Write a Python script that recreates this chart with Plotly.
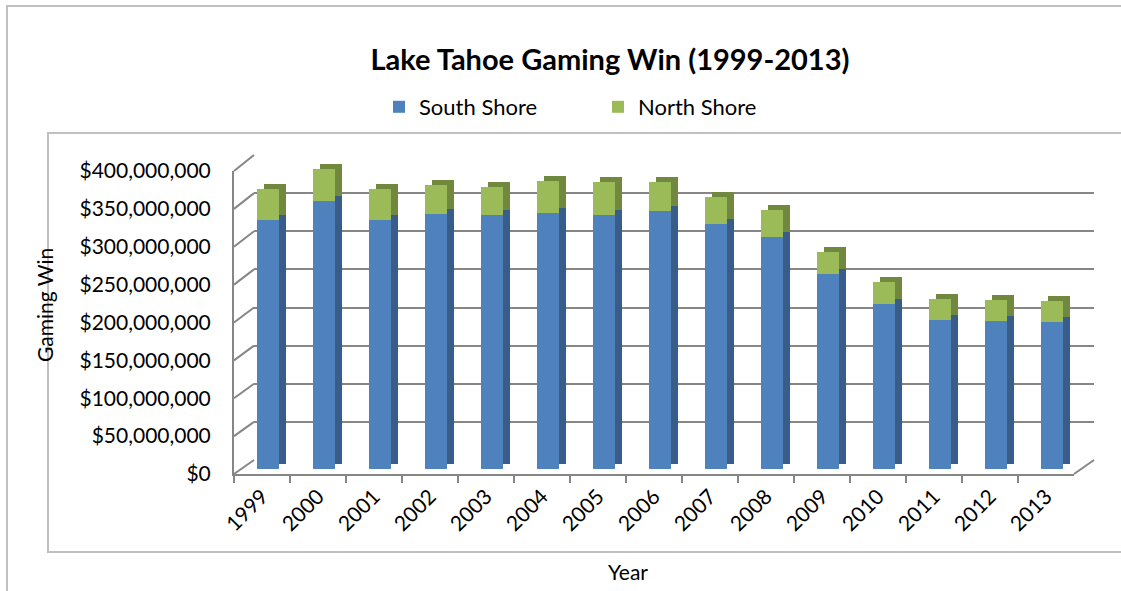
import plotly.graph_objects as go

# ---------------- data ----------------
years = ["1999", "2000", "2001", "2002", "2003", "2004", "2005", "2006",
         "2007", "2008", "2009", "2010", "2011", "2012", "2013"]
south_shore = [327e6, 352e6, 328e6, 335e6, 334e6, 337e6, 334e6, 339e6,
               323e6, 305e6, 257e6, 217e6, 196e6, 195e6, 194e6]
north_shore = [42e6, 43e6, 41e6, 39e6, 37.5e6, 42e6, 43e6, 38e6,
               35e6, 36e6, 29e6, 28.6e6, 28e6, 28e6, 27.5e6]
y_tick_vals = [0, 50e6, 100e6, 150e6, 200e6, 250e6, 300e6, 350e6, 400e6]
y_tick_text = ["$0", "$50,000,000", "$100,000,000", "$150,000,000", "$200,000,000",
               "$250,000,000", "$300,000,000", "$350,000,000", "$400,000,000"]

# ---------------- geometry helpers (pixels -> paper) ----------------
W, H = 1121, 591
YMAX = 400e6


def xd(a, b):
    return [a / W, b / W]


def yd(top, bottom):
    return [1 - bottom / H, 1 - top / H]


FONT = "Lato, 'Open Sans', sans-serif"
GRID = "#868686"
BOX = "#c0c0c0"
BLUE, BLUE_D = "#4f81bd", "#385d8a"
GREEN, GREEN_D = "#9bbb59", "#71893f"

# front plane: x 234..1074, y(0)=474, y(400M)=171
FX0, FX1, FY0, FY1 = 234, 1074, 474, 171
# back wall: x 254..1094, y(0)=460, y(400M)=155
BX0, BX1, BY0, BY1 = 254, 1094, 460, 155
# bars front face
MX0, MX1, MY0, MY1 = 240, 1080, 469, 165
# bar sides (depth) offset up-right from the front face
SX0, SX1, SY0, SY1 = 247, 1087, 464, 160

fig = go.Figure()

# back wall gridlines (placeholder invisible trace so the subplot exists)
fig.add_trace(go.Scatter(x=years, y=[None] * len(years), xaxis="x", yaxis="y",
                         mode="lines", showlegend=False, hoverinfo="skip"))

# bar depth faces (darker, offset up-right)
fig.add_trace(go.Bar(x=years, y=south_shore, xaxis="x2", yaxis="y2",
                     marker=dict(color=BLUE_D, line=dict(width=0)),
                     showlegend=False, hoverinfo="skip"))
fig.add_trace(go.Bar(x=years, y=north_shore, xaxis="x2", yaxis="y2",
                     marker=dict(color=GREEN_D, line=dict(width=0)),
                     showlegend=False, hoverinfo="skip"))

# bar front faces
fig.add_trace(go.Bar(x=years, y=south_shore, xaxis="x3", yaxis="y3", name="South Shore",
                     marker=dict(color=BLUE, line=dict(width=0))))
fig.add_trace(go.Bar(x=years, y=north_shore, xaxis="x3", yaxis="y3", name="North Shore",
                     marker=dict(color=GREEN, line=dict(width=0))))

# front axes (tick labels)
fig.add_trace(go.Scatter(x=years, y=[0] * len(years), xaxis="x4", yaxis="y4",
                         mode="markers", marker=dict(opacity=0), showlegend=False,
                         hoverinfo="skip"))

hidden = dict(showgrid=False, zeroline=False, showticklabels=False, showline=False,
              ticks="", automargin=False)

layout = dict(
    width=W, height=H,
    margin=dict(l=0, r=0, t=0, b=0, pad=0, autoexpand=False),
    paper_bgcolor="white",
    plot_bgcolor="rgba(0,0,0,0)",
    barmode="stack",
    bargap=0.59,
    font=dict(family=FONT, color="black"),
    showlegend=True,
    legend=dict(orientation="h", x=379 / W, y=1 - 107 / H, xanchor="left", yanchor="middle",
                font=dict(size=22, family=FONT), traceorder="normal",
                entrywidth=174, entrywidthmode="pixels", bgcolor="rgba(0,0,0,0)"),
    title=dict(text="<b>Lake Tahoe Gaming Win (1999-2013)</b>", x=610 / W, xanchor="center",
               y=1 - 60 / H, yanchor="middle", font=dict(size=29, family=FONT, color="black")),
    # back wall
    xaxis=dict(domain=xd(BX0, BX1), anchor="y", range=[-0.5, 14.5], type="category",
               **hidden),
    yaxis=dict(domain=yd(BY1, BY0), anchor="x", range=[0, YMAX], showgrid=True,
               gridcolor=GRID, gridwidth=2, tickvals=y_tick_vals, zeroline=False,
               showticklabels=False, showline=False, ticks="", automargin=False),
    # depth faces
    xaxis2=dict(domain=xd(SX0, SX1), anchor="y2", range=[-0.5, 14.5], type="category",
                **hidden),
    yaxis2=dict(domain=yd(SY1, SY0), anchor="x2", range=[0, YMAX], **hidden),
    # front faces
    xaxis3=dict(domain=xd(MX0, MX1), anchor="y3", range=[-0.5, 14.5], type="category",
                **hidden),
    yaxis3=dict(domain=yd(MY1, MY0), anchor="x3", range=[0, YMAX], **hidden),
    # front axes
    xaxis4=dict(domain=xd(FX0, FX1), anchor="y4", range=[-0.5, 14.5], type="category",
                showgrid=False, zeroline=False, showline=True, linecolor=GRID, linewidth=2,
                ticks="outside", ticklen=7, tickcolor=GRID, tickwidth=1.5,
                tickson="boundaries", tickangle=-45, automargin=False,
                tickfont=dict(size=21, family=FONT, color="black")),
    yaxis4=dict(domain=yd(FY1, FY0), anchor="x4", range=[0, YMAX], showgrid=False,
                zeroline=False, showline=True, linecolor=GRID, linewidth=2,
                tickvals=y_tick_vals, ticktext=y_tick_text, ticks="",
                ticklabelstandoff=17, automargin=False,
                tickfont=dict(size=21, family=FONT, color="black")),
)
fig.update_layout(**layout)

shapes = []
# outer chart border and inner plot-area border
shapes.append(dict(type="rect", xref="paper", yref="paper", x0=7 / W, x1=1130 / W,
                   y0=1 - 600 / H, y1=1 - 6 / H, line=dict(color=BOX, width=2)))
shapes.append(dict(type="rect", xref="paper", yref="paper", x0=48 / W, x1=1130 / W,
                   y0=1 - 552 / H, y1=1 - 133 / H, line=dict(color=BOX, width=2)))
# left wall diagonals at every gridline level
for v in y_tick_vals:
    yf = FY0 - (FY0 - FY1) * v / YMAX
    yb = BY0 - (BY0 - BY1) * v / YMAX
    shapes.append(dict(type="line", xref="paper", yref="paper",
                       x0=FX0 / W, y0=1 - yf / H, x1=BX0 / W, y1=1 - yb / H,
                       line=dict(color=GRID, width=2)))
# floor right edge
shapes.append(dict(type="line", xref="paper", yref="paper",
                   x0=FX1 / W, y0=1 - FY0 / H, x1=BX1 / W, y1=1 - BY0 / H,
                   line=dict(color=GRID, width=2)))
fig.update_layout(shapes=shapes)

fig.add_annotation(text="Gaming Win", textangle=-90, xref="paper", yref="paper",
                   x=44 / W, y=1 - 305 / H, xanchor="center", yanchor="middle",
                   showarrow=False, font=dict(size=21, family=FONT, color="black"))
fig.add_annotation(text="Year", xref="paper", yref="paper",
                   x=628 / W, y=1 - 571 / H, xanchor="center", yanchor="middle",
                   showarrow=False, font=dict(size=21, family=FONT, color="black"))

fig.write_html("out.html")
